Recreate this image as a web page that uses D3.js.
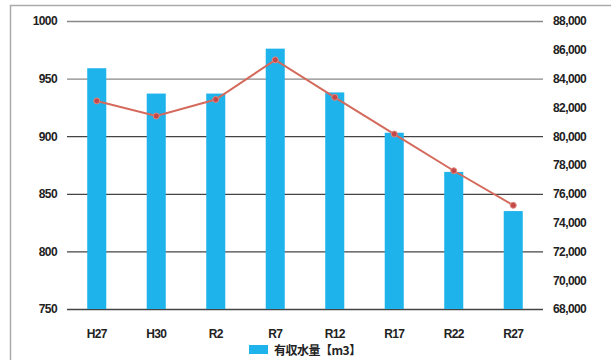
<!DOCTYPE html>
<html>
<head>
<meta charset="utf-8">
<script src="https://cdn.jsdelivr.net/npm/d3@7"></script>
<style>
  body { margin: 0; background: #fff; }
  text { font-family: "Liberation Sans", Arial, sans-serif; font-weight: bold; fill: #222; }
</style>
</head>
<body>
<script>
var years = ['H27', 'H30', 'R2', 'R7', 'R12', 'R17', 'R22', 'R27']
var barValues = [959, 937, 937, 976, 938, 903, 869, 835]
var lineValues = [82450, 81400, 82550, 85300, 82700, 80150, 77600, 75200]
var leftTicks = [750, 800, 850, 900, 950, 1000]
var rightTicks = [68000, 70000, 72000, 74000, 76000, 78000, 80000, 82000, 84000, 86000, 88000]
var legendLabel = '有収水量【m3】'

var W = 611, H = 360
var m = {left: 67, right: 68, top: 21, bottom: 51}

var svg = d3.select('body').append('svg').attr('width', W).attr('height', H)

// frame
svg.append('path')
  .attr('d', 'M10.5,' + H + 'V5.5H' + W)
  .attr('fill', 'none').attr('stroke', '#aaa').attr('stroke-width', 1.5)

var x = d3.scaleBand().domain(years).range([m.left, W - m.right]).paddingInner(0.68).paddingOuter(0.34)
var yL = d3.scaleLinear().domain([750, 1000]).range([H - m.bottom, m.top])
var yR = d3.scaleLinear().domain([68000, 88000]).range([H - m.bottom, m.top])

// grid
svg.append('g').selectAll('line').data(leftTicks).join('line')
  .attr('x1', m.left).attr('x2', W - m.right)
  .attr('y1', d => yL(d) + 0.5).attr('y2', d => yL(d) + 0.5)
  .attr('stroke', d => d >= 950 ? '#888' : '#444').attr('stroke-width', 1.3)

// left axis
var axL = d3.axisLeft(yL).tickValues(leftTicks).tickSize(0).tickPadding(10).tickFormat(d3.format('d'))
svg.append('g').attr('transform', 'translate(' + m.left + ',0)').call(axL)
  .call(g => g.select('.domain').remove())
  .selectAll('text').style('font-size', '12px').style('letter-spacing', '-0.6px')

// right axis
var axR = d3.axisRight(yR).tickValues(rightTicks).tickSize(0).tickPadding(10).tickFormat(d3.format(','))
svg.append('g').attr('transform', 'translate(' + (W - m.right) + ',0)').call(axR)
  .call(g => g.select('.domain').remove())
  .selectAll('text').style('font-size', '12px').style('letter-spacing', '-0.6px')

// bars
svg.append('g').selectAll('rect').data(years).join('rect')
  .attr('x', d => x(d)).attr('width', x.bandwidth())
  .attr('y', (d, i) => yL(barValues[i]))
  .attr('height', (d, i) => yL(750) - yL(barValues[i]))
  .attr('fill', '#1fb3ec')

// x labels
svg.append('g').selectAll('text').data(years).join('text')
  .attr('x', d => x(d) + x.bandwidth() / 2).attr('y', H - m.bottom + 29)
  .attr('text-anchor', 'middle').style('font-size', '12px').style('letter-spacing', '-0.6px')
  .text(d => d)

// line
var pts = years.map((d, i) => [x(d) + x.bandwidth() / 2, yR(lineValues[i])])
svg.append('path').attr('d', d3.line()(pts))
  .attr('fill', 'none').attr('stroke', '#d46a5c').attr('stroke-width', 2)
svg.append('g').selectAll('circle').data(pts).join('circle')
  .attr('cx', d => d[0]).attr('cy', d => d[1]).attr('r', 3)
  .attr('fill', '#c4474a').attr('stroke', '#e08a80').attr('stroke-width', 1)

// legend
var lg = svg.append('g').attr('transform', 'translate(249,345)')
lg.append('rect').attr('width', 19).attr('height', 9).attr('fill', '#1fb3ec')
lg.append('text').attr('x', 25).attr('y', 10).style('font-size', '12px').style('letter-spacing', '-0.5px')
  .style('font-family', '"Noto Sans CJK JP", sans-serif').text(legendLabel)
</script>
</body>
</html>
